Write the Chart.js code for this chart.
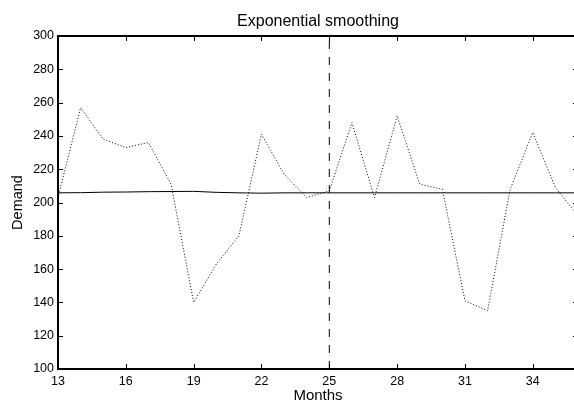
<!DOCTYPE html>
<html>
<head>
<meta charset="utf-8">
<script src="https://cdn.jsdelivr.net/npm/chart.js@4/dist/chart.umd.min.js"></script>
<style>
  html, body { margin: 0; padding: 0; background: #fff; overflow: hidden; }
  canvas { display: block; }
</style>
</head>
<body>
<canvas id="grafico" width="584" height="408"></canvas>
<script>
// datos
const meses = [13, 14, 15, 16, 17, 18, 19, 20, 21, 22, 23, 24,
               25, 26, 27, 28, 29, 30, 31, 32, 33, 34, 35, 36];
const demanda = [203, 257, 238, 233, 236, 211, 140, 163, 180, 241, 217, 203,
                 207, 248, 203, 252, 211, 208, 141, 135, 208, 242, 209, 192];
const suavizado = [205.8, 205.9, 206.2, 206.3, 206.5, 206.6, 206.7, 206.1, 205.8, 205.6, 205.8, 205.8,
                   205.8, 205.8, 205.8, 205.8, 205.8, 205.8, 205.8, 205.8, 205.8, 205.8, 205.8, 205.8];
const inicioPronostico = 25;
const ticksX = [13, 16, 19, 22, 25, 28, 31, 34];
const ticksY = [100, 120, 140, 160, 180, 200, 220, 240, 260, 280, 300];

const fuente = "'Liberation Sans', Arial, Helvetica, sans-serif";

const puntos = (xs, ys) => xs.map((m, i) => ({ x: m, y: ys[i] }));

// marco con ticks hacia adentro, estilo matlab
const marco = {
  id: 'marco',
  afterDatasetsDraw(chart) {
    const { ctx, chartArea: a, scales: { x, y } } = chart;
    ctx.save();
    ctx.strokeStyle = '#000';
    ctx.lineWidth = 1;
    ctx.beginPath();
    x.ticks.forEach(t => {
      const px = Math.round(x.getPixelForValue(t.value)) + 0.5;
      ctx.moveTo(px, a.bottom); ctx.lineTo(px, a.bottom - 5);
      ctx.moveTo(px, a.top); ctx.lineTo(px, a.top + 5);
    });
    y.ticks.forEach(t => {
      const py = Math.round(y.getPixelForValue(t.value)) + 0.5;
      ctx.moveTo(a.left, py); ctx.lineTo(a.left + 5, py);
      ctx.moveTo(a.right, py); ctx.lineTo(a.right - 5, py);
    });
    ctx.stroke();
    ctx.lineWidth = 2;
    ctx.strokeRect(a.left, a.top, a.right - a.left, a.bottom - a.top);
    ctx.restore();
  }
};

new Chart(document.getElementById('grafico'), {
  type: 'line',
  data: {
    datasets: [
      {
        label: 'Demanda',
        data: puntos(meses, demanda),
        borderColor: '#000',
        borderWidth: 1,
        borderDash: [1, 2],
        pointRadius: 0,
        tension: 0
      },
      {
        label: 'Suavizado',
        data: puntos(meses, suavizado),
        borderColor: '#000',
        borderWidth: 1,
        pointRadius: 0,
        tension: 0
      },
      {
        label: 'Inicio pronostico',
        data: [{ x: inicioPronostico, y: ticksY[0] }, { x: inicioPronostico, y: ticksY[ticksY.length - 1] }],
        borderColor: '#000',
        borderWidth: 1,
        borderDash: [8, 8],
        pointRadius: 0
      }
    ]
  },
  options: {
    responsive: false,
    animation: false,
    events: [],
    layout: { padding: { left: 0, right: 6, top: 0, bottom: 0 } },
    plugins: {
      legend: { display: false },
      tooltip: { enabled: false },
      title: {
        display: true,
        text: 'Exponential smoothing',
        fullSize: false,
        color: '#000',
        font: { family: fuente, size: 16, weight: 'normal' },
        padding: { top: 11.6, bottom: 5.2 }
      }
    },
    scales: {
      x: {
        type: 'linear',
        min: meses[0],
        max: meses[meses.length - 1],
        grid: { display: false, drawTicks: false, tickLength: 0 },
        border: { display: false },
        afterBuildTicks: s => { s.ticks = ticksX.map(v => ({ value: v })); },
        afterFit: s => { s.height = 39; },
        ticks: {
          color: '#000',
          font: { family: fuente, size: 12.5 },
          padding: 5,
          maxRotation: 0,
          autoSkip: false
        },
        title: {
          display: true,
          text: 'Months',
          color: '#000',
          font: { family: fuente, size: 15 },
          padding: { top: 0, bottom: 3 }
        }
      },
      y: {
        min: ticksY[0],
        max: ticksY[ticksY.length - 1],
        grid: { display: false, drawTicks: false, tickLength: 0 },
        border: { display: false },
        afterBuildTicks: s => { s.ticks = ticksY.map(v => ({ value: v })); },
        afterFit: s => { s.width = 58; },
        ticks: {
          color: '#000',
          font: { family: fuente, size: 12.5 },
          padding: 4
        },
        title: {
          display: true,
          text: 'Demand',
          color: '#000',
          font: { family: fuente, size: 14.5 },
          padding: { top: 9, bottom: 0 }
        }
      }
    }
  },
  plugins: [marco]
});
</script>
</body>
</html>
